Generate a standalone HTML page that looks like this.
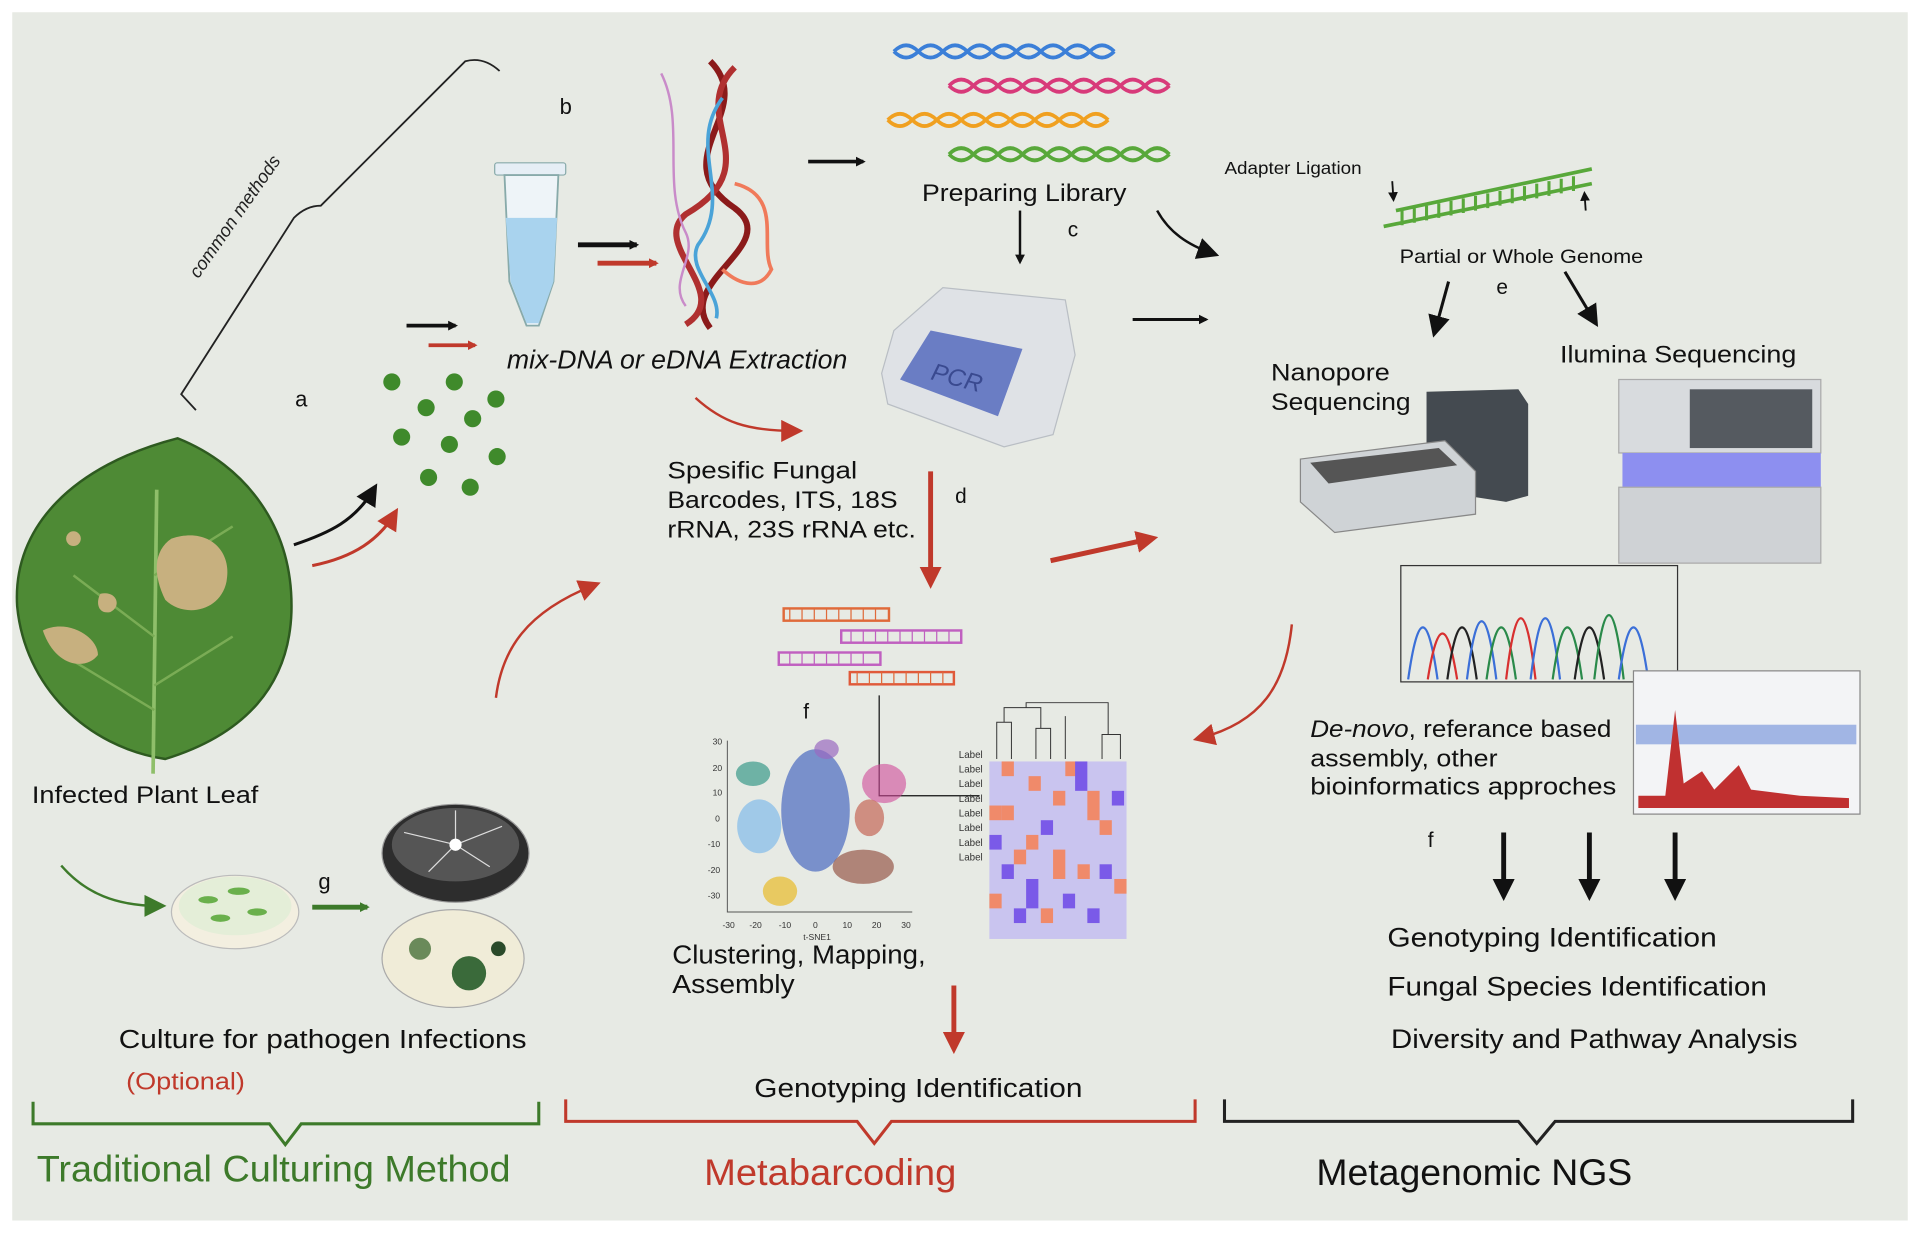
<!DOCTYPE html>
<html><head><meta charset="utf-8"><style>
html,body{margin:0;padding:0;background:#fff;}
svg{display:block;}
text{font-family:"Liberation Sans",sans-serif;}
</style></head><body>
<svg width="1920" height="1234" viewBox="0 0 1568 1008" preserveAspectRatio="none" xmlns="http://www.w3.org/2000/svg">
<defs>
<marker id="ab" markerWidth="8" markerHeight="8" refX="6" refY="4" orient="auto" markerUnits="userSpaceOnUse"><path d="M0,0 L8,4 L0,8 z" fill="#111"/></marker>
<marker id="ar" markerWidth="8" markerHeight="8" refX="6" refY="4" orient="auto" markerUnits="userSpaceOnUse"><path d="M0,0 L8,4 L0,8 z" fill="#c0392b"/></marker>
<marker id="ag" markerWidth="8" markerHeight="8" refX="6" refY="4" orient="auto" markerUnits="userSpaceOnUse"><path d="M0,0 L8,4 L0,8 z" fill="#3d7a2a"/></marker>
<marker id="ab2" markerWidth="18" markerHeight="18" refX="12" refY="9" orient="auto" markerUnits="userSpaceOnUse"><path d="M0,0 L18,9 L0,18 z" fill="#111"/></marker>
<marker id="ar2" markerWidth="18" markerHeight="18" refX="12" refY="9" orient="auto" markerUnits="userSpaceOnUse"><path d="M0,0 L18,9 L0,18 z" fill="#c0392b"/></marker>
<marker id="ag2" markerWidth="18" markerHeight="18" refX="12" refY="9" orient="auto" markerUnits="userSpaceOnUse"><path d="M0,0 L18,9 L0,18 z" fill="#3d7a2a"/></marker>
</defs>
<rect x="10" y="10" width="1548" height="987" fill="#e7eae4"/>

<path d="M160,335 L148,322 L240,178 Q250,168 262,168 L380,50 Q395,46 408,58" fill="none" stroke="#222" stroke-width="1.5"/>
<text x="0" y="0" transform="translate(162,228) rotate(-55)" font-size="15" font-style="italic" fill="#222" textLength="118" lengthAdjust="spacingAndGlyphs">common methods</text>
<text x="241" y="332" font-size="18" fill="#111">a</text>
<text x="457" y="93" font-size="18" fill="#111">b</text>

<path d="M145,358 C200,380 240,430 238,500 C236,560 200,600 135,620 C70,610 20,560 14,495 C10,430 60,380 145,358 Z" fill="#4e8a35" stroke="#2e5a20" stroke-width="2"/>
<path d="M125,632 L128,400" stroke="#8fbf6a" stroke-width="3" fill="none"/>
<path d="M126,520 L60,470 M126,470 L190,430 M126,560 L190,520 M126,580 L60,540" stroke="#7aac55" stroke-width="2"/>
<path d="M140,440 C170,430 190,450 185,475 C180,500 150,505 135,490 C125,470 125,450 140,440Z" fill="#c7b07f"/>
<path d="M35,515 C55,505 80,520 80,535 C70,548 45,545 35,515Z" fill="#c7b07f"/>
<path d="M82,485 C95,482 100,495 90,500 C80,502 78,492 82,485Z" fill="#c7b07f"/>
<circle cx="60" cy="440" r="6" fill="#c7b07f"/>
<text x="26" y="656" font-size="20" fill="#111" textLength="185" lengthAdjust="spacingAndGlyphs">Infected Plant Leaf</text>

<path d="M240,445 C270,435 290,425 305,400" fill="none" stroke="#111" stroke-width="2.5" marker-end="url(#ab2)"/>
<path d="M255,462 C290,455 310,440 322,420" fill="none" stroke="#c0392b" stroke-width="2.5" marker-end="url(#ar2)"/>

<g fill="#3f8a2b"><circle cx="320" cy="312" r="7"/><circle cx="371" cy="312" r="7"/><circle cx="348" cy="333" r="7"/><circle cx="405" cy="326" r="7"/><circle cx="328" cy="357" r="7"/><circle cx="367" cy="363" r="7"/><circle cx="386" cy="342" r="7"/><circle cx="406" cy="373" r="7"/><circle cx="350" cy="390" r="7"/><circle cx="384" cy="398" r="7"/></g>
<path d="M332,266 L372,266" stroke="#111" stroke-width="3" marker-end="url(#ab)"/>
<path d="M350,282 L388,282" stroke="#c0392b" stroke-width="3" marker-end="url(#ar)"/>

<rect x="404" y="133" width="58" height="10" rx="2" fill="#e6eef5" stroke="#8aa" />
<path d="M412,143 L456,143 L452,230 L440,266 L430,266 L416,230 Z" fill="#eef4f8" stroke="#8aa" stroke-width="1.5"/>
<path d="M413,178 L455,178 L452,230 L440,264 L430,264 L417,230 Z" fill="#a9d3ee"/>
<path d="M472,200 L520,200" stroke="#111" stroke-width="4" marker-end="url(#ab)"/>
<path d="M488,215 L536,215" stroke="#c0392b" stroke-width="4" marker-end="url(#ar)"/>

<path d="M580,50 C620,90 540,130 600,170 C640,200 550,230 580,268" fill="none" stroke="#8b1a1a" stroke-width="5"/>
<path d="M600,55 C560,95 630,135 560,175 C530,200 600,240 560,265" fill="none" stroke="#b03030" stroke-width="5"/>
<path d="M590,80 C560,120 600,160 570,200 C560,220 590,240 585,260" fill="none" stroke="#4aa3d8" stroke-width="3"/>
<path d="M540,60 C560,100 540,150 560,190 C570,210 545,230 560,250" fill="none" stroke="#c98bc9" stroke-width="2"/>
<path d="M600,150 C640,160 620,200 630,220 C620,240 600,230 590,220" fill="none" stroke="#f07a5a" stroke-width="3"/>
<text x="414" y="301" font-size="21" font-style="italic" fill="#111" textLength="278" lengthAdjust="spacingAndGlyphs">mix-DNA or eDNA Extraction</text>

<g fill="none" stroke-width="3">
<path d="M730,42 q10,-10 20,0 t20,0 t20,0 t20,0 t20,0 t20,0 t20,0 t20,0 t20,0 M730,42 q10,10 20,0 t20,0 t20,0 t20,0 t20,0 t20,0 t20,0 t20,0 t20,0" stroke="#3b7fd8"/>
<path d="M775,70 q10,-10 20,0 t20,0 t20,0 t20,0 t20,0 t20,0 t20,0 t20,0 t20,0 M775,70 q10,10 20,0 t20,0 t20,0 t20,0 t20,0 t20,0 t20,0 t20,0 t20,0" stroke="#d83a7a"/>
<path d="M725,98 q10,-10 20,0 t20,0 t20,0 t20,0 t20,0 t20,0 t20,0 t20,0 t20,0 M725,98 q10,10 20,0 t20,0 t20,0 t20,0 t20,0 t20,0 t20,0 t20,0 t20,0" stroke="#f0a020"/>
<path d="M775,126 q10,-10 20,0 t20,0 t20,0 t20,0 t20,0 t20,0 t20,0 t20,0 t20,0 M775,126 q10,10 20,0 t20,0 t20,0 t20,0 t20,0 t20,0 t20,0 t20,0 t20,0" stroke="#58a83a"/>
</g>
<path d="M660,132 L705,132" stroke="#111" stroke-width="3" marker-end="url(#ab)"/>
<text x="753" y="164" font-size="20" fill="#111" textLength="167" lengthAdjust="spacingAndGlyphs">Preparing Library</text>
<text x="872" y="193" font-size="17" fill="#111">c</text>
<path d="M833,172 L833,214" stroke="#111" stroke-width="2" marker-end="url(#ab)"/>
<path d="M945,172 C955,190 970,200 990,207" fill="none" stroke="#111" stroke-width="2" marker-end="url(#ab2)"/>

<path d="M730,270 L770,235 L870,245 L878,290 L860,355 L820,365 L725,330 L720,305 Z" fill="#dfe2e6" stroke="#b9bec4"/>
<path d="M735,310 L760,270 L835,285 L815,340 Z" fill="#6a7dc4"/>
<text x="760" y="315" font-size="20" font-style="italic" fill="#3a4a90" transform="rotate(15 780 310)">PCR</text>
<path d="M925,261 L985,261" stroke="#111" stroke-width="2.5" marker-end="url(#ab)"/>

<text x="1000" y="142" font-size="14" fill="#111" textLength="112" lengthAdjust="spacingAndGlyphs">Adapter Ligation</text>
<path d="M1130,185 L1300,150 M1140,172 L1300,138" stroke="#58a83a" stroke-width="3"/>
<g stroke="#58a83a" stroke-width="2.5"><path d="M1145,172 v12 M1155,170 v12 M1165,168 v12 M1175,166 v12 M1185,164 v12 M1195,162 v12 M1205,160 v12 M1215,158 v12 M1225,156 v12 M1235,154 v12 M1245,152 v12 M1255,150 v12 M1265,148 v12 M1275,146 v12 M1285,144 v12"/></g>
<path d="M1137,148 L1138,163" stroke="#111" stroke-width="1.5" marker-end="url(#ab)"/>
<path d="M1295,172 L1294,158" stroke="#111" stroke-width="1.5" marker-end="url(#ab)"/>
<text x="1143" y="215" font-size="16" fill="#111" textLength="199" lengthAdjust="spacingAndGlyphs">Partial or Whole Genome</text>
<text x="1222" y="240" font-size="17" fill="#111">e</text>
<path d="M1183,230 L1172,270" stroke="#111" stroke-width="2.5" marker-end="url(#ab2)"/>
<path d="M1278,222 L1302,262" stroke="#111" stroke-width="2.5" marker-end="url(#ab2)"/>
<text x="1038" y="311" font-size="20" fill="#111" textLength="97" lengthAdjust="spacingAndGlyphs">Nanopore</text>
<text x="1038" y="335" font-size="20" fill="#111" textLength="114" lengthAdjust="spacingAndGlyphs">Sequencing</text>
<text x="1274" y="296" font-size="20" fill="#111" textLength="193" lengthAdjust="spacingAndGlyphs">Ilumina Sequencing</text>

<path d="M1165,320 L1240,318 L1248,330 L1248,405 L1230,410 L1165,400 Z" fill="#444a50"/>
<path d="M1062,375 L1180,360 L1205,385 L1205,420 L1090,435 L1062,410 Z" fill="#cfd3d6" stroke="#888"/>
<path d="M1070,378 L1175,366 L1190,380 L1085,395 Z" fill="#555"/>
<rect x="1322" y="310" width="165" height="60" fill="#d8dbde" stroke="#aaa"/>
<rect x="1380" y="318" width="100" height="48" fill="#555a60"/>
<rect x="1325" y="370" width="162" height="28" fill="#8d8ff0"/>
<rect x="1322" y="398" width="165" height="62" fill="#cfd2d5" stroke="#aaa"/>

<rect x="1144" y="462" width="226" height="95" fill="none" stroke="#333" stroke-width="1"/>
<g fill="none" stroke-width="1.8">
<path d="M1150,555 Q1162,470 1174,555" stroke="#3b6fd8"/><path d="M1166,555 Q1178,480 1190,555" stroke="#d83030"/>
<path d="M1182,555 Q1194,470 1206,555" stroke="#222"/><path d="M1198,555 Q1210,460 1222,555" stroke="#3b6fd8"/>
<path d="M1214,555 Q1226,470 1238,555" stroke="#2a8a4a"/><path d="M1230,555 Q1242,455 1254,555" stroke="#d83030"/>
<path d="M1250,555 Q1262,455 1274,555" stroke="#3b6fd8"/><path d="M1268,555 Q1280,470 1292,555" stroke="#2a8a4a"/>
<path d="M1286,555 Q1298,470 1310,555" stroke="#222"/><path d="M1302,555 Q1314,450 1326,555" stroke="#2a8a4a"/>
<path d="M1322,555 Q1334,470 1346,555" stroke="#3b6fd8"/>
</g>
<rect x="1334" y="548" width="185" height="117" fill="#f3f4f6" stroke="#888"/>
<rect x="1336" y="592" width="180" height="16" fill="#6a8ad8" opacity="0.6"/>
<path d="M1338,650 L1360,650 L1368,580 L1375,640 L1390,630 L1400,645 L1420,625 L1430,645 L1470,650 L1510,652 L1510,660 L1338,660 Z" fill="#c03030"/>

<text x="1070" y="602" font-size="20" fill="#111" textLength="246" lengthAdjust="spacingAndGlyphs"><tspan font-style="italic">De-novo</tspan>, referance based</text>
<text x="1070" y="626" font-size="20" fill="#111" textLength="153" lengthAdjust="spacingAndGlyphs">assembly, other</text>
<text x="1070" y="649" font-size="20" fill="#111" textLength="250" lengthAdjust="spacingAndGlyphs">bioinformatics approches</text>
<text x="1166" y="692" font-size="17" fill="#111">f</text>
<path d="M1228,680 L1228,730" stroke="#111" stroke-width="4" marker-end="url(#ab2)"/>
<path d="M1298,680 L1298,730" stroke="#111" stroke-width="4" marker-end="url(#ab2)"/>
<path d="M1368,680 L1368,730" stroke="#111" stroke-width="4" marker-end="url(#ab2)"/>
<text x="1133" y="773" font-size="22" fill="#111" textLength="269" lengthAdjust="spacingAndGlyphs">Genotyping Identification</text>
<text x="1133" y="813" font-size="22" fill="#111" textLength="310" lengthAdjust="spacingAndGlyphs">Fungal Species Identification</text>
<text x="1136" y="856" font-size="22" fill="#111" textLength="332" lengthAdjust="spacingAndGlyphs">Diversity and Pathway Analysis</text>

<path d="M568,325 C590,345 610,352 650,352" fill="none" stroke="#c0392b" stroke-width="2" marker-end="url(#ar2)"/>
<text x="545" y="391" font-size="20" fill="#111" textLength="155" lengthAdjust="spacingAndGlyphs">Spesific Fungal</text>
<text x="545" y="415" font-size="20" fill="#111" textLength="188" lengthAdjust="spacingAndGlyphs">Barcodes, ITS, 18S</text>
<text x="545" y="439" font-size="20" fill="#111" textLength="203" lengthAdjust="spacingAndGlyphs">rRNA, 23S rRNA etc.</text>
<text x="780" y="411" font-size="17" fill="#111">d</text>
<path d="M760,385 L760,475" stroke="#c0392b" stroke-width="4" marker-end="url(#ar2)"/>
<path d="M858,458 L940,440" stroke="#c0392b" stroke-width="4" marker-end="url(#ar2)"/>
<path d="M405,570 C410,530 430,500 485,478" fill="none" stroke="#c0392b" stroke-width="2" marker-end="url(#ar2)"/>
<path d="M1055,510 C1050,560 1030,590 980,603" fill="none" stroke="#c0392b" stroke-width="2" marker-end="url(#ar2)"/>

<g stroke-width="2" fill="none">
<rect x="640" y="497" width="86" height="10" stroke="#e06a3a"/><rect x="687" y="515" width="98" height="10" stroke="#c060c0"/>
<rect x="636" y="533" width="83" height="10" stroke="#c060c0"/><rect x="694" y="549" width="85" height="10" stroke="#e05a3a"/>
</g>
<g stroke-width="1" stroke="#e06a3a"><path d="M645,497 v10 M655,497 v10 M665,497 v10 M675,497 v10 M685,497 v10 M695,497 v10 M705,497 v10 M715,497 v10 M700,549 v10 M710,549 v10 M720,549 v10 M730,549 v10 M740,549 v10 M750,549 v10 M760,549 v10 M770,549 v10"/></g>
<g stroke-width="1" stroke="#c060c0"><path d="M695,515 v10 M705,515 v10 M715,515 v10 M725,515 v10 M735,515 v10 M745,515 v10 M755,515 v10 M765,515 v10 M775,515 v10 M645,533 v10 M655,533 v10 M665,533 v10 M675,533 v10 M685,533 v10 M695,533 v10 M705,533 v10"/></g>
<text x="656" y="587" font-size="17" fill="#111">f</text>
<path d="M718,568 L718,650 L800,650" stroke="#111" stroke-width="1" fill="none"/>
<path d="M594,605 L594,745 L745,745" stroke="#555" fill="none" stroke-width="0.8"/>
<g font-size="7" fill="#333"><text x="582" y="608">30</text><text x="582" y="630">20</text><text x="582" y="650">10</text><text x="584" y="671">0</text><text x="578" y="692">-10</text><text x="578" y="713">-20</text><text x="578" y="734">-30</text>
<text x="590" y="758">-30</text><text x="612" y="758">-20</text><text x="636" y="758">-10</text><text x="664" y="758">0</text><text x="688" y="758">10</text><text x="712" y="758">20</text><text x="736" y="758">30</text><text x="656" y="768">t-SNE1</text></g>
<ellipse cx="615" cy="632" rx="14" ry="10" fill="#3a9a8a" opacity="0.7"/>
<ellipse cx="620" cy="675" rx="18" ry="22" fill="#8ec0e8" opacity="0.8"/>
<ellipse cx="666" cy="662" rx="28" ry="50" fill="#4a6ac0" opacity="0.7"/>
<ellipse cx="675" cy="612" rx="10" ry="8" fill="#9a6ac0" opacity="0.7"/>
<ellipse cx="722" cy="640" rx="18" ry="16" fill="#d04a9a" opacity="0.6"/>
<ellipse cx="710" cy="668" rx="12" ry="15" fill="#c05040" opacity="0.6"/>
<ellipse cx="705" cy="708" rx="25" ry="14" fill="#8a4030" opacity="0.6"/>
<ellipse cx="637" cy="728" rx="14" ry="12" fill="#e8c040" opacity="0.8"/>
<g>
<rect x="808" y="622" width="112" height="145" fill="#c9c4ef"/>
<g fill="#f08a6a"><rect x="818" y="622" width="10" height="12"/><rect x="840" y="634" width="10" height="12"/><rect x="808" y="658" width="10" height="12"/><rect x="860" y="646" width="10" height="12"/><rect x="898" y="670" width="10" height="12"/><rect x="828" y="694" width="10" height="12"/><rect x="880" y="706" width="10" height="12"/><rect x="808" y="730" width="10" height="12"/><rect x="850" y="742" width="10" height="12"/><rect x="910" y="718" width="10" height="12"/><rect x="870" y="622" width="10" height="12"/><rect x="838" y="682" width="10" height="12"/><rect x="888" y="646" width="10" height="24"/><rect x="818" y="658" width="10" height="12"/><rect x="860" y="694" width="10" height="24"/></g>
<g fill="#7a5ae8"><rect x="878" y="622" width="10" height="24"/><rect x="808" y="682" width="10" height="12"/><rect x="850" y="670" width="10" height="12"/><rect x="898" y="706" width="10" height="12"/><rect x="828" y="742" width="10" height="12"/><rect x="868" y="730" width="10" height="12"/><rect x="908" y="646" width="10" height="12"/><rect x="818" y="706" width="10" height="12"/><rect x="838" y="718" width="10" height="24"/><rect x="888" y="742" width="10" height="12"/></g>
<path d="M814,620 V590 H826 V620 M820,590 V578 H850 V595 H846 V620 M850,595 H858 V620 M838,578 V574 H905 V600 H900 V620 M905,600 H915 V620 M870,585 V620" stroke="#333" fill="none" stroke-width="0.8"/>
</g>
<g font-size="8" fill="#333"><text x="783" y="619">Label</text><text x="783" y="631">Label</text><text x="783" y="643">Label</text><text x="783" y="655">Label</text><text x="783" y="667">Label</text><text x="783" y="679">Label</text><text x="783" y="691">Label</text><text x="783" y="703">Label</text></g>
<text x="549" y="787" font-size="21" fill="#111" textLength="207" lengthAdjust="spacingAndGlyphs">Clustering, Mapping,</text>
<text x="549" y="811" font-size="21" fill="#111" textLength="100" lengthAdjust="spacingAndGlyphs">Assembly</text>
<path d="M779,805 L779,855" stroke="#c0392b" stroke-width="4" marker-end="url(#ar2)"/>
<text x="616" y="896" font-size="21" fill="#111" textLength="268" lengthAdjust="spacingAndGlyphs">Genotyping Identification</text>

<path d="M50,707 C70,730 95,740 130,740" fill="none" stroke="#3d7a2a" stroke-width="2" marker-end="url(#ag2)"/>
<ellipse cx="192" cy="745" rx="52" ry="30" fill="#f3efe0" stroke="#bbb"/>
<ellipse cx="192" cy="740" rx="46" ry="24" fill="#e4eed8"/>
<g fill="#6ab04c"><ellipse cx="170" cy="735" rx="8" ry="3"/><ellipse cx="195" cy="728" rx="9" ry="3"/><ellipse cx="210" cy="745" rx="8" ry="3"/><ellipse cx="180" cy="750" rx="8" ry="3"/></g>
<text x="260" y="726" font-size="18" fill="#111">g</text>
<path d="M255,741 L300,741" stroke="#3d7a2a" stroke-width="4" marker-end="url(#ag)"/>
<ellipse cx="372" cy="697" rx="60" ry="40" fill="#2d2d2d" stroke="#999"/>
<ellipse cx="372" cy="690" rx="52" ry="30" fill="#555"/>
<g stroke="#ddd" stroke-width="1"><path d="M372,690 L330,680 M372,690 L410,675 M372,690 L350,712 M372,690 L400,708 M372,690 L372,662"/></g>
<circle cx="372" cy="690" r="5" fill="#fff"/>
<ellipse cx="370" cy="783" rx="58" ry="40" fill="#f0ecd8" stroke="#aaa"/>
<circle cx="383" cy="795" r="14" fill="#3a6a3a"/><circle cx="343" cy="775" r="9" fill="#6a8a5a"/><circle cx="407" cy="775" r="6" fill="#2a4a2a"/>
<text x="97" y="856" font-size="21" fill="#111" textLength="333" lengthAdjust="spacingAndGlyphs">Culture for pathogen Infections</text>
<text x="103" y="890" font-size="20" fill="#c0392b" textLength="97" lengthAdjust="spacingAndGlyphs">(Optional)</text>

<path d="M27,900 V918 H220 L233,935 L246,918 H440 V900" fill="none" stroke="#3d7a2a" stroke-width="2.5"/>
<path d="M462,898 V916 H700 L714,934 L728,916 H976 V898" fill="none" stroke="#c0392b" stroke-width="2.5"/>
<path d="M1000,898 V916 H1240 L1255,934 L1270,916 H1513 V898" fill="none" stroke="#222" stroke-width="2.5"/>
<text x="30" y="965" font-size="30" fill="#3d7a2a" textLength="387" lengthAdjust="spacingAndGlyphs">Traditional Culturing Method</text>
<text x="575" y="968" font-size="30" fill="#c0392b" textLength="206" lengthAdjust="spacingAndGlyphs">Metabarcoding</text>
<text x="1075" y="968" font-size="30" fill="#111" textLength="258" lengthAdjust="spacingAndGlyphs">Metagenomic NGS</text>
</svg>
</body></html>
